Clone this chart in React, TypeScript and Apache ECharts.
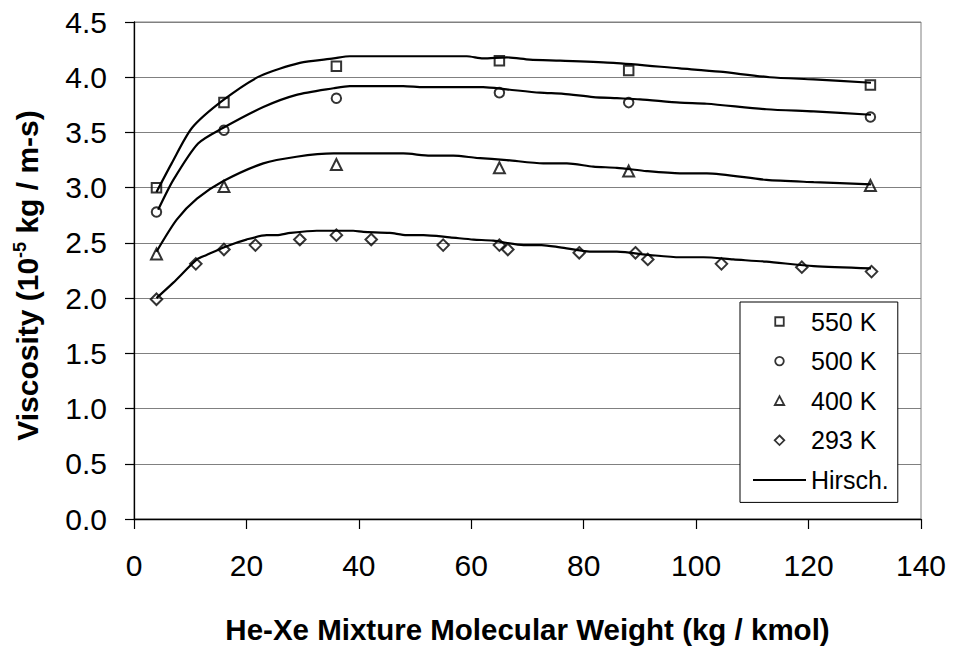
import React, { useEffect, useRef } from "react";
import * as echarts from "echarts";

// Experimental data (molecular weight, kg/kmol)
const mwMain = [4, 16, 36, 65, 88, 131];
const visc550 = [3.0, 3.77, 4.1, 4.15, 4.06, 3.93];
const visc500 = [2.78, 3.52, 3.81, 3.86, 3.77, 3.64];
const visc400 = [2.4, 3.01, 3.21, 3.18, 3.15, 3.02];

const mw293 = [4, 11, 16, 21.6, 29.5, 36, 42.2, 55, 65, 66.5, 79.2, 89.2, 91.4, 104.5, 118.8, 131.2];
const visc293 = [1.99, 2.31, 2.44, 2.48, 2.53, 2.57, 2.53, 2.48, 2.48, 2.44, 2.41, 2.41, 2.35, 2.31, 2.28, 2.24];

// Hirschfelder model curves
const hirschX550 = [4, 6.7, 10.3, 15.8, 22.4, 29.5, 35.5, 38.4, 59.2, 62.1, 66.3, 70.4, 75.8, 85.3, 97.1, 104.2, 113.1, 120.9, 131.1];
const hirschY550 = [2.96, 3.22, 3.54, 3.79, 4.01, 4.13, 4.17, 4.19, 4.19, 4.17, 4.18, 4.16, 4.15, 4.13, 4.08, 4.05, 4.0, 3.98, 3.95];

const hirschX500 = [4.3, 7, 11.4, 15.8, 23, 28.9, 35.5, 38.4, 47.9, 51.5, 62.1, 66.3, 72.2, 76.4, 81.7, 85.9, 90, 97.1, 101.9, 112.5, 120.9, 131.1];
const hirschY500 = [2.8, 3.07, 3.4, 3.54, 3.73, 3.84, 3.9, 3.92, 3.92, 3.91, 3.91, 3.89, 3.86, 3.85, 3.82, 3.81, 3.8, 3.77, 3.76, 3.71, 3.69, 3.66];

const hirschX400 = [4, 7.6, 11.2, 15.9, 23, 28.9, 35.5, 47.9, 52.7, 56.8, 60.9, 66.3, 72.8, 77, 81.7, 85.9, 91.2, 97.1, 101.9, 112.5, 120.9, 131.1];
const hirschY400 = [2.42, 2.71, 2.9, 3.06, 3.22, 3.28, 3.31, 3.31, 3.29, 3.29, 3.27, 3.25, 3.22, 3.22, 3.19, 3.18, 3.15, 3.13, 3.13, 3.07, 3.05, 3.03];

const hirschX293 = [4, 7, 11.2, 12.9, 16.5, 20, 23.6, 25.4, 27.8, 32.5, 39, 40.8, 45.5, 48.5, 51.5, 56.2, 60.4, 63.9, 69.3, 72.5, 75.8, 81.7, 85.9, 91.8, 97.1, 101.3, 106.6, 112.5, 120.9, 131.1];
const hirschY293 = [2.0, 2.14, 2.35, 2.39, 2.47, 2.53, 2.57, 2.57, 2.59, 2.61, 2.61, 2.6, 2.59, 2.57, 2.57, 2.55, 2.53, 2.52, 2.48, 2.48, 2.46, 2.42, 2.42, 2.39, 2.37, 2.37, 2.35, 2.33, 2.29, 2.27];

const legendNames = ["550 K", "500 K", "400 K", "293 K", "Hirsch."];

const FONT = "'Liberation Sans', Arial, Helvetica, sans-serif";

// Legend icons: an invisible 53x10 frame (moveTo points) keeps the marker at its true size
const LEGEND_FRAME = "M0,0M53,10";
const legendIcons: Record<string, string> = {
  "550 K": "path://" + LEGEND_FRAME + "M22.25,0.75h8.5v8.5h-8.5z",
  "500 K": "path://" + LEGEND_FRAME + "M30.8,5A4.3,4.3,0,1,1,22.2,5A4.3,4.3,0,1,1,30.8,5z",
  "400 K": "path://" + LEGEND_FRAME + "M26.5,0.5L31.2,9.3L21.8,9.3z",
  "293 K": "path://" + LEGEND_FRAME + "M26.5,0.2L31.3,5L26.5,9.8L21.7,5z",
};

const zip = (xs: number[], ys: number[]) => xs.map((x, i) => [x, ys[i]]);

export default function App() {
  const ref = useRef<HTMLDivElement>(null);

  useEffect(() => {
    if (!ref.current) return;
    const chart = echarts.init(ref.current, null, { renderer: "svg" });

    const scatterStyle = { color: "transparent", borderColor: "#000", borderWidth: 2 };
    const lineStyle = { color: "#000", width: 2.2 };

    const scatter = (name: string, xs: number[], ys: number[], symbol: string, size: number) => ({
      name,
      type: "scatter",
      data: zip(xs, ys),
      symbol,
      symbolSize: size,
      itemStyle: scatterStyle,
      z: 3,
    });

    const line = (xs: number[], ys: number[]) => ({
      name: "Hirsch.",
      type: "line",
      data: zip(xs, ys),
      symbol: "none",
      smooth: 0.25,
      lineStyle,
      itemStyle: { color: "#000" },
      z: 2,
    });

    const legendData = legendNames.map((n) =>
      legendIcons[n]
        ? { name: n, icon: legendIcons[n], itemStyle: { color: "transparent", borderColor: "#000", borderWidth: 1.8 } }
        : { name: n, itemStyle: { color: "transparent", borderWidth: 0, opacity: 0 } }
    );

    chart.setOption({
      animation: false,
      backgroundColor: "#fff",
      textStyle: { fontFamily: FONT },
      grid: {
        left: 134,
        right: 32,
        top: 22,
        bottom: 128,
        show: true,
        borderColor: "#808080",
        borderWidth: 1,
        backgroundColor: "transparent",
        containLabel: false,
        outerBoundsMode: "none",
      },
      legend: {
        data: legendData,
        orient: "vertical",
        left: 740,
        top: 302,
        padding: [7, 9, 10, 12],
        itemGap: 14.6,
        itemWidth: 53,
        itemHeight: 10,
        symbolKeepAspect: true,
        borderColor: "#000",
        borderWidth: 1,
        backgroundColor: "#fff",
        textStyle: { fontSize: 25, color: "#000", fontFamily: FONT },
        selectedMode: false,
      },
      xAxis: {
        type: "value",
        min: 0,
        max: 140,
        interval: 20,
        name: "He-Xe Mixture Molecular Weight (kg / kmol)",
        nameLocation: "middle",
        nameGap: 95,
        nameTextStyle: { fontSize: 29.5, fontWeight: "bold", color: "#000", fontFamily: FONT },
        axisLine: { show: true, onZero: false, lineStyle: { color: "#000", width: 1.3 } },
        axisTick: { show: true, inside: false, length: 10, lineStyle: { color: "#000", width: 1.2 } },
        axisLabel: { fontSize: 30, color: "#000", margin: 31, fontFamily: FONT },
        splitLine: { show: false },
      },
      yAxis: {
        type: "value",
        min: 0,
        max: 4.5,
        interval: 0.5,
        name: "{a|Viscosity (10}{s|-5}{a| kg / m-s)}",
        nameLocation: "middle",
        nameGap: 90,
        nameTextStyle: {
          color: "#000",
          fontFamily: FONT,
          padding: [0, 10, 0, 0],
          rich: {
            a: { fontSize: 30, fontWeight: "bold", color: "#000", fontFamily: FONT, lineHeight: 33 },
            s: { fontSize: 18, fontWeight: "bold", color: "#000", fontFamily: FONT, lineHeight: 18, verticalAlign: "top" },
          },
        },
        axisLine: { show: true, onZero: false, lineStyle: { color: "#000", width: 1.3 } },
        axisTick: { show: true, inside: false, length: 9, lineStyle: { color: "#000", width: 1.2 } },
        axisLabel: {
          fontSize: 30,
          color: "#000",
          margin: 27,
          fontFamily: FONT,
          formatter: (v: number) => v.toFixed(1),
        },
        splitLine: { show: true, lineStyle: { color: "#808080", width: 1 } },
      },
      series: [
        line(hirschX550, hirschY550),
        line(hirschX500, hirschY500),
        line(hirschX400, hirschY400),
        line(hirschX293, hirschY293),
        scatter("550 K", mwMain, visc550, "rect", 9.5),
        scatter("500 K", mwMain, visc500, "circle", 9.5),
        scatter("400 K", mwMain, visc400, "triangle", 11),
        scatter("293 K", mw293, visc293, "diamond", 11.5),
      ],
    });

    return () => chart.dispose();
  }, []);

  return (
    <div
      ref={ref}
      style={{ position: "fixed", left: 0, top: 0, width: 953, height: 647, background: "#fff" }}
    />
  );
}
